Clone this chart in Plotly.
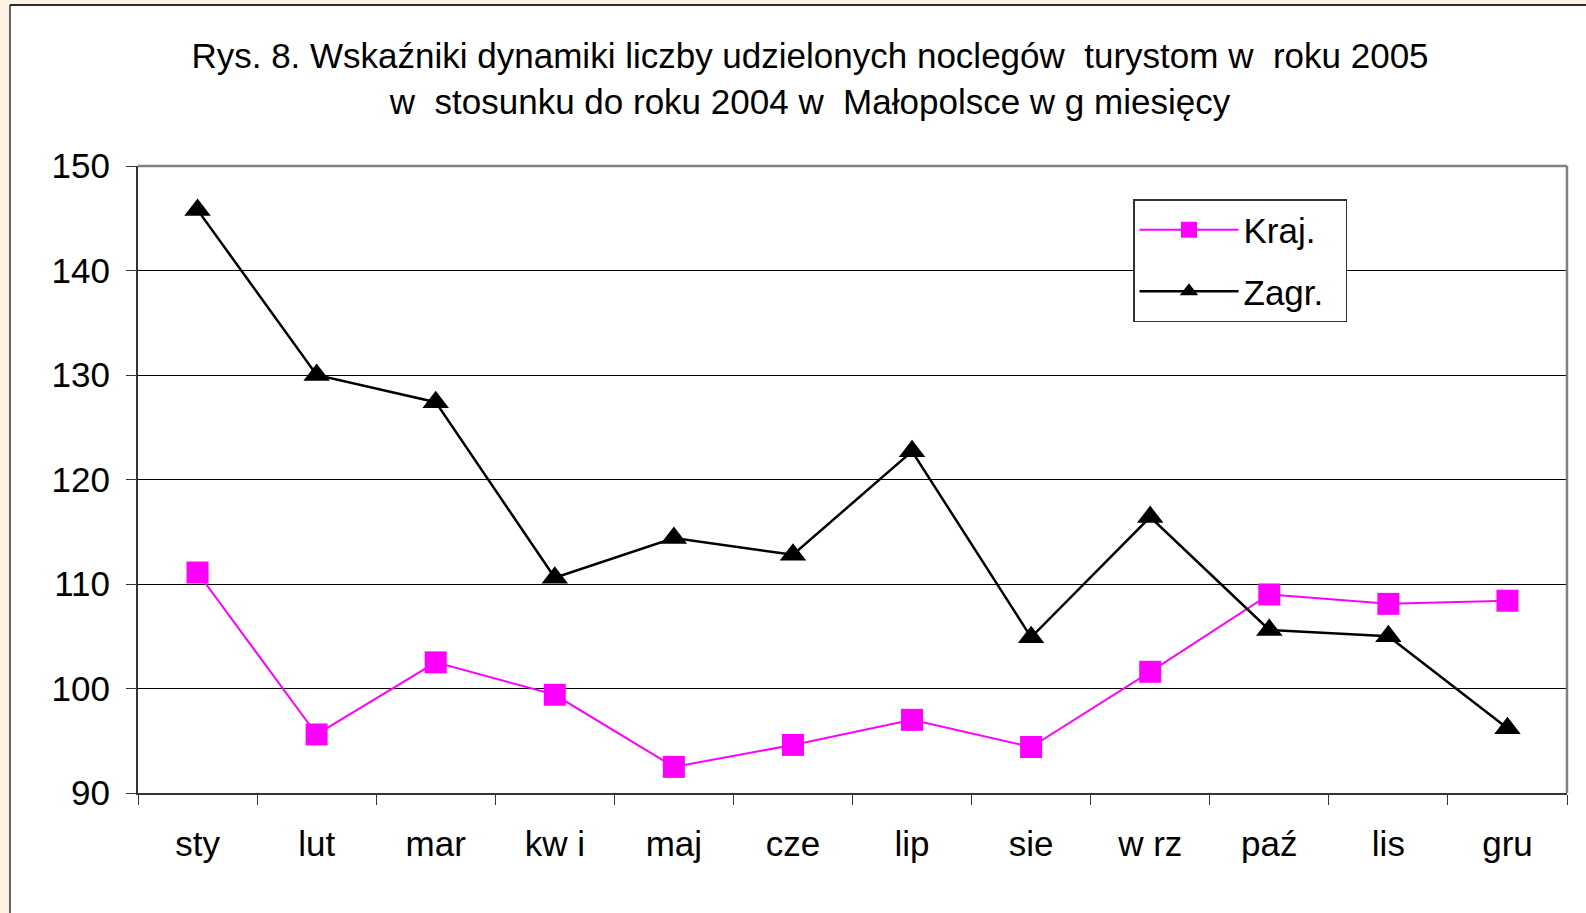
import plotly.graph_objects as go

months = ["sty", "lut", "mar", "kw i", "maj", "cze", "lip", "sie", "w rz", "paź", "lis", "gru"]
kraj = [111.1, 95.6, 102.5, 99.4, 92.5, 94.6, 97.0, 94.4, 101.6, 109.0, 108.1, 108.4]
zagr = [145.8, 130.0, 127.4, 110.6, 114.4, 112.8, 122.7, 104.9, 116.4, 105.6, 105.0, 96.2]
y_ticks = [90, 100, 110, 120, 130, 140, 150]

title_text = ("Rys. 8. Wskaźniki dynamiki liczby udzielonych noclegów\u00a0 turystom w\u00a0 roku 2005"
              "<br>w\u00a0 stosunku do roku 2004 w\u00a0 Małopolsce w g miesięcy")

FONT = "Liberation Sans, Arial, sans-serif"
CREAM = "#FCF2E3"
W, H = 1586, 913
L, R, T, B = 138, 19, 166, 120
pw, ph = W - L - R, H - T - B

def px_x(px):
    return (px - L) / pw

def px_y(py):
    return (H - B - py) / ph

fig = go.Figure()
fig.add_trace(go.Scatter(
    x=months, y=kraj, name="Kraj.\u00a0", mode="lines+markers",
    line=dict(color="#FF00FF", width=2),
    marker=dict(symbol="square", size=22, color="#FF00FF"),
    legendgroup="a",
))
fig.add_trace(go.Scatter(
    x=months, y=zagr, name="Zagr.\u00a0\u2009", mode="lines+markers",
    line=dict(color="#000000", width=2.5),
    marker=dict(symbol="triangle-up", size=23, color="#000000"),
    legendgroup="b",
))

shapes = [
    dict(type="rect", xref="paper", yref="paper", x0=px_x(10), x1=px_x(W + 50),
         y0=px_y(H + 50), y1=px_y(5), fillcolor="white", line=dict(width=0), layer="below"),
    dict(type="line", xref="paper", yref="paper", x0=px_x(10), x1=px_x(W + 50),
         y0=px_y(5), y1=px_y(5), line=dict(color="#2a2a2a", width=2), layer="below"),
    dict(type="line", xref="paper", yref="paper", x0=px_x(10), x1=px_x(10),
         y0=px_y(5), y1=px_y(H + 50), line=dict(color="#000000", width=1.2), layer="below"),
    dict(type="line", xref="paper", yref="paper", x0=0, x1=1, y0=1, y1=1,
         line=dict(color="#808080", width=2.5)),
    dict(type="line", xref="paper", yref="paper", x0=1, x1=1, y0=0, y1=1,
         line=dict(color="#808080", width=2.5)),
]

fig.update_layout(
    width=W, height=H,
    margin=dict(l=L, r=R, t=T, b=B, pad=0),
    paper_bgcolor=CREAM,
    plot_bgcolor="white",
    font=dict(family=FONT, size=35, color="black"),
    title=dict(text=title_text, x=810 / W, xref="container", xanchor="center",
               y=1 - 68 / H, yref="container", yanchor="top",
               font=dict(family=FONT, size=35, color="black")),
    showlegend=True,
    legend=dict(x=px_x(1133), y=px_y(199), xanchor="left", yanchor="top",
                bgcolor="white", bordercolor="#333333", borderwidth=1.5,
                font=dict(family=FONT, size=35, color="black"),
                itemwidth=99, tracegroupgap=13, traceorder="grouped"),
    shapes=shapes,
    xaxis=dict(
        type="category", range=[-0.5, 11.5], showgrid=False,
        showline=True, linecolor="#333333", linewidth=2,
        ticks="outside", tickson="boundaries", ticklen=10, tickcolor="#333333", tickwidth=1.2,
        tickfont=dict(family=FONT, size=35, color="black"), ticklabelstandoff=19,
        zeroline=False,
    ),
    yaxis=dict(
        range=[90, 150], tickvals=y_ticks, showgrid=True, gridcolor="#000000", gridwidth=1,
        showline=True, linecolor="#333333", linewidth=2,
        ticks="outside", ticklen=10, tickcolor="#333333", tickwidth=1.2,
        tickfont=dict(family=FONT, size=35, color="black"), ticklabelstandoff=9,
        zeroline=False,
    ),
)

fig.write_html(
    "out.html",
    config={"displayModeBar": False},
    post_script="document.body.style.margin='0';document.body.style.padding='0';"
                "document.body.style.background='" + CREAM + "';"
                "document.body.style.overflow='hidden';",
)
